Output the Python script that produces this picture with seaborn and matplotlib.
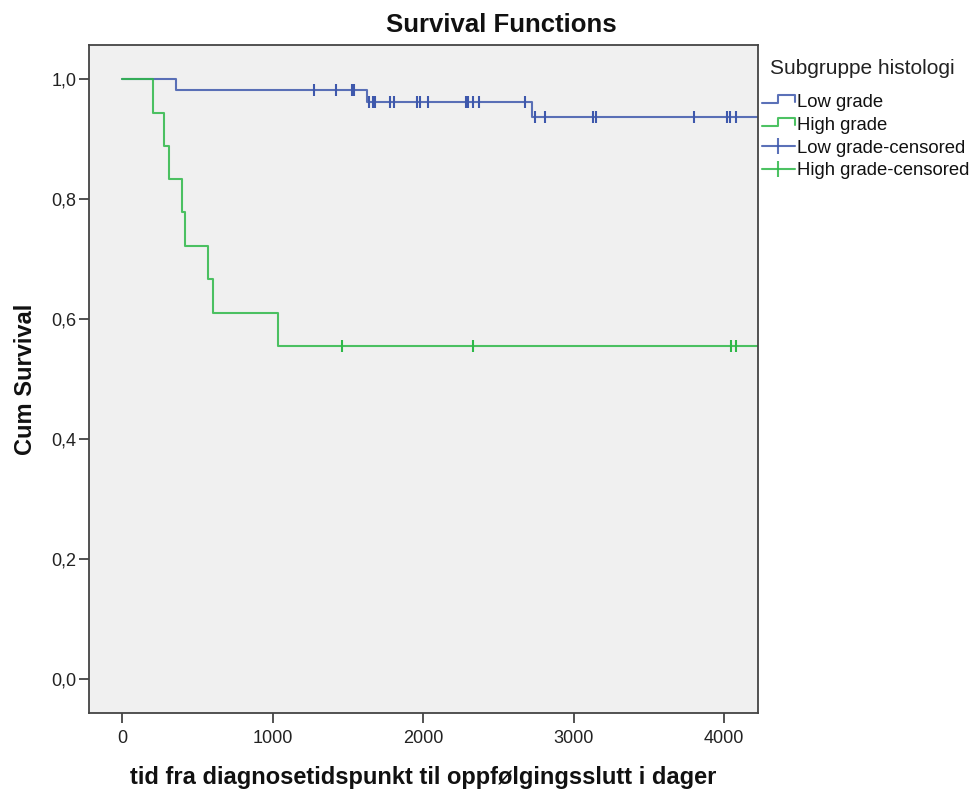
import numpy as np
import pandas as pd
import matplotlib
matplotlib.use("Agg")
import matplotlib.pyplot as plt
from matplotlib.lines import Line2D
from matplotlib.legend_handler import HandlerBase
import seaborn as sns

# ---------------- data ----------------
groups = ["Low grade", "High grade"]

# step times (days) and survival level after each step; last entry = end of follow-up
low_times = [0, 358, 1629, 2720, 4400]
low_surv = [1.0, 0.982, 0.962, 0.936, 0.936]
low_censored = [1275, 1419, 1529, 1543, 1643, 1665, 1680, 1780, 1806, 1957, 1979,
                2034, 2284, 2300, 2333, 2371, 2676, 2742, 2809, 3130, 3147, 3798,
                4019, 4037, 4082]

high_times = [0, 204, 279, 312, 400, 414, 567, 600, 1034, 4400]
high_surv = [1.0, 0.944, 0.889, 0.833, 0.778, 0.722, 0.667, 0.611, 0.556, 0.556]
high_censored = [1459, 2333, 4044, 4082]

x_ticks = [0, 1000, 2000, 3000, 4000]
y_ticks = [0.0, 0.2, 0.4, 0.6, 0.8, 1.0]
y_tick_labels = ["0,0", "0,2", "0,4", "0,6", "0,8", "1,0"]

title = "Survival Functions"
x_label = "tid fra diagnosetidspunkt til oppfølgingsslutt i dager"
y_label = "Cum Survival"
legend_title = "Subgruppe histologi"
legend_labels = ["Low grade", "High grade", "Low grade-censored", "High grade-censored"]

colors = {"Low grade": "#3E58AC", "High grade": "#2EB848"}

# ---------------- build tables ----------------
curves = pd.concat([
    pd.DataFrame({"time": low_times, "surv": low_surv, "group": "Low grade"}),
    pd.DataFrame({"time": high_times, "surv": high_surv, "group": "High grade"}),
], ignore_index=True)


def level_at(times, surv, t):
    idx = np.searchsorted(np.asarray(times), np.asarray(t), side="right") - 1
    return np.asarray(surv)[idx]


cens = pd.concat([
    pd.DataFrame({"time": low_censored,
                  "surv": level_at(low_times, low_surv, low_censored),
                  "group": "Low grade"}),
    pd.DataFrame({"time": high_censored,
                  "surv": level_at(high_times, high_surv, high_censored),
                  "group": "High grade"}),
], ignore_index=True)

# ---------------- figure ----------------
sns.set_theme(style="white")
plt.rcParams["font.family"] = ["Liberation Sans", "DejaVu Sans"]

W, H = 971, 791
fig = plt.figure(figsize=(W / 100, H / 100), dpi=100)
fig.patch.set_facecolor("white")
ax = fig.add_axes([89 / W, 1 - 713 / H, (758 - 89) / W, (713 - 45) / H])
ax.set_facecolor("#F0F0F0")

for g in groups:
    sub = curves[curves.group == g]
    sns.lineplot(data=sub, x="time", y="surv", color=colors[g], linewidth=1.5,
                 drawstyle="steps-post", estimator=None, sort=False, ax=ax,
                 legend=False, alpha=0.85)
    csub = cens[cens.group == g]
    sns.scatterplot(data=csub, x="time", y="surv", color=colors[g], marker="|",
                    s=80, linewidth=1.5, ax=ax, legend=False, zorder=3)

ax.set_xlim(-221, 4225)
ax.set_ylim(-0.056, 1.0567)
ax.set_xticks(x_ticks)
ax.set_xticklabels([str(t) for t in x_ticks])
ax.set_yticks(y_ticks)
ax.set_yticklabels(y_tick_labels)

for sp in ax.spines.values():
    sp.set_color("#444444")
    sp.set_linewidth(1.3)
ax.tick_params(axis="both", which="major", bottom=True, left=True, direction="out",
               length=7, width=1.3, color="#444444",
               labelsize=13, labelcolor="#222222", pad=2)
ax.tick_params(axis="x", pad=5)

fig.text(501 / W, 1 - 25 / H, title, fontsize=18.5, fontweight="bold",
         color="#111111", ha="center", va="center")
ax.set_xlabel(x_label, fontsize=17, fontweight="bold", labelpad=14, color="#111111")
ax.set_ylabel(y_label, fontsize=17, fontweight="bold", labelpad=10, color="#111111")


# ---------------- legend ----------------
class StepHandler(HandlerBase):
    def create_artists(self, legend, orig_handle, xdescent, ydescent, width, height,
                       fontsize, trans):
        x0, y0 = -xdescent, -ydescent
        xs = [x0, x0 + 0.5 * width, x0 + 0.5 * width, x0 + width, x0 + width]
        ys = [y0 + 0.25 * height, y0 + 0.25 * height, y0 + 0.9 * height,
              y0 + 0.9 * height, y0 + 0.35 * height]
        ln = Line2D(xs, ys, color=orig_handle.get_color(), linewidth=1.5,
                    alpha=0.85, transform=trans)
        return [ln]


h_low = Line2D([], [], color=colors["Low grade"])
h_high = Line2D([], [], color=colors["High grade"])
h_low_c = Line2D([], [], color=colors["Low grade"], marker="|", markersize=11,
                 markeredgewidth=1.5, linewidth=1.5, alpha=0.85)
h_high_c = Line2D([], [], color=colors["High grade"], marker="|", markersize=11,
                  markeredgewidth=1.5, linewidth=1.5, alpha=0.85)

fig.text(770 / W, 1 - 68 / H, legend_title, fontsize=15, color="#222222",
         ha="left", va="center")

leg = fig.legend([h_low, h_high, h_low_c, h_high_c], legend_labels,
                 loc="upper left",
                 bbox_to_anchor=(758 / W, 1 - 90 / H), frameon=False,
                 fontsize=13.3, handlelength=1.8,
                 handletextpad=0.1, labelspacing=0.32, borderpad=0.2,
                 borderaxespad=0.0,
                 numpoints=1, handler_map={h_low: StepHandler(), h_high: StepHandler()})
for t in leg.get_texts():
    t.set_color("#111111")

fig.savefig("out.png", dpi=100, facecolor="white")
